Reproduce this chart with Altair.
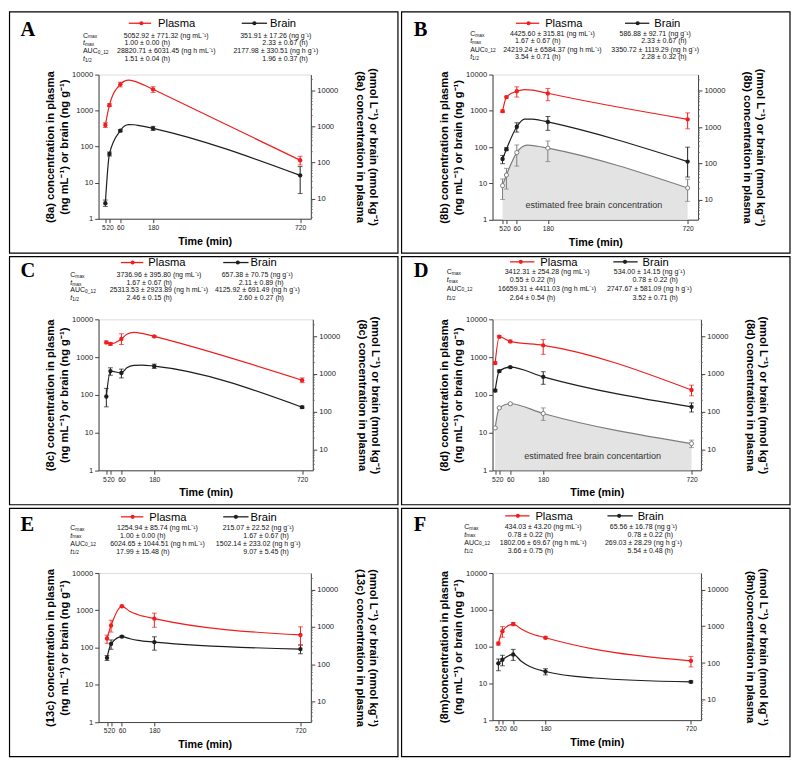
import altair as alt
import pandas as pd

S = 0.979
FONT = "Liberation Sans"
SERIF = "Liberation Serif"
RED = "#f01e1e"
BLACK = "#1e1e1e"
GRAY = "#7d7d7d"
AREA_FILL = "#e3e3e3"

TIME = [5, 20, 60, 180, 720]
LEFT_TICKS = [1, 10, 100, 1000, 10000]
RIGHT_TICKS = [10, 100, 1000, 10000]
X_TICKS = [5, 20, 60, 180, 720]
STAT_MAIN = ["C", "t", "AUC", "t"]
STAT_SUB = ["max", "max", "0_12", "1/2"]
STAT_ITALIC = [False, True, False, True]

# ---------------- Panel A (8a)
A_plasma = [400, 1420, 5350, 3900, 42]
A_plasma_lo = [340, 1300, 4550, 3200, 31]
A_plasma_hi = [460, 1550, 6150, 4600, 54]
A_brain = [2.7, 63, 278, 323, 16]
A_brain_lo = [2.2, 55, 260, 280, 5]
A_brain_hi = [3.3, 71, 296, 366, 28]
A_fit_t = [5, 20, 60, 75, 90, 110, 130, 155, 180, 720]
A_fit_plasma = [400, 1420, 5350, 6600, 7000, 6600, 5800, 4800, 3900, 42]
A_fit_brain = [2.7, 63, 278, 375, 410, 405, 385, 355, 323, 16]
A_stats_plasma = ["5052.92 ± 771.32 (ng mL⁻¹)", "1.00 ± 0.00 (h)", "28820.71 ± 6031.45 (ng h mL⁻¹)", "1.51 ± 0.04 (h)"]
A_stats_brain = ["351.91 ± 17.26 (ng g⁻¹)", "2.33 ± 0.67 (h)", "2177.98 ± 330.51 (ng h g⁻¹)", "1.96 ± 0.37 (h)"]

# ---------------- Panel B (8b)
B_plasma = [980, 2400, 3470, 3020, 585]
B_plasma_lo = [900, 2250, 2400, 1900, 320]
B_plasma_hi = [1060, 2550, 4600, 4150, 880]
B_brain = [47, 88, 365, 495, 40]
B_brain_lo = [35, 80, 260, 290, 15]
B_brain_hi = [59, 96, 470, 700, 100]
B_free = [8.7, 17, 71, 94, 7.5]
B_free_lo = [3.6, 7, 30, 40, 3.2]
B_free_hi = [13.3, 26, 115, 148, 13]
B_fit_t = [5, 20, 60, 90, 120, 150, 180, 720]
B_fit_plasma = [980, 2400, 3470, 3850, 3750, 3400, 3050, 585]
B_fit_brain = [47, 88, 365, 590, 590, 550, 495, 40]
B_free_fit_t = [5, 20, 60, 100, 140, 180, 720]
B_free_fit = [8.7, 17, 71, 113, 106, 94, 7.5]
B_stats_plasma = ["4425.60 ± 315.81 (ng mL⁻¹)", "1.67 ± 0.67 (h)", "24219.24 ± 6584.37 (ng h mL⁻¹)", "3.54 ± 0.71 (h)"]
B_stats_brain = ["586.88 ± 92.71 (ng g⁻¹)", "2.33 ± 0.67 (h)", "3350.72 ± 1119.29 (ng h g⁻¹)", "2.28 ± 0.32 (h)"]

# ---------------- Panel C (8c)
C_plasma = [2460, 2240, 3030, 3530, 244]
C_plasma_lo = [2250, 2050, 2150, 3350, 210]
C_plasma_hi = [2670, 2430, 4150, 3710, 280]
C_brain = [90, 425, 380, 575, 47]
C_brain_lo = [48, 330, 280, 500, 44]
C_brain_hi = [148, 520, 480, 650, 50]
C_fit_t = [5, 20, 60, 80, 105, 135, 180, 720]
C_fit_plasma = [2460, 2240, 3030, 4000, 4500, 4250, 3530, 244]
C_fit_brain = [90, 425, 380, 520, 605, 615, 575, 47]
C_stats_plasma = ["3736.96 ± 395.80 (ng mL⁻¹)", "1.67 ± 0.67 (h)", "25313.53 ± 2923.89 (ng h mL⁻¹)", "2.46 ± 0.15 (h)"]
C_stats_brain = ["657.38 ± 70.75 (ng g⁻¹)", "2.11 ± 0.89 (h)", "4125.92 ± 691.49 (ng h g⁻¹)", "2.60 ± 0.27 (h)"]

# ---------------- Panel D (8d)
D_plasma = [695, 3450, 2600, 2050, 134]
D_plasma_lo = [650, 3250, 2400, 1180, 94]
D_plasma_hi = [740, 3650, 2800, 2900, 180]
D_brain = [130, 425, 540, 300, 48]
D_brain_lo = [120, 400, 520, 190, 35]
D_brain_hi = [140, 450, 560, 410, 61]
D_free = [13.3, 45, 58, 32, 5.1]
D_free_lo = [12.5, 43, 55, 21, 4]
D_free_hi = [14, 47, 61, 45, 6.3]
D_stats_plasma = ["3412.31 ± 254.28 (ng mL⁻¹)", "0.55 ± 0.22 (h)", "16659.31 ± 4411.03 (ng h mL⁻¹)", "2.64 ± 0.54 (h)"]
D_stats_brain = ["534.00 ± 14.15 (ng g⁻¹)", "0.78 ± 0.22 (h)", "2747.67 ± 581.09 (ng h g⁻¹)", "3.52 ± 0.71 (h)"]

# ---------------- Panel E (13c)
E_plasma = [175, 390, 1280, 600, 218]
E_plasma_lo = [130, 260, 1200, 350, 115]
E_plasma_hi = [215, 540, 1360, 840, 360]
E_brain = [53, 126, 197, 140, 91]
E_brain_lo = [45, 90, 185, 85, 68]
E_brain_hi = [61, 160, 210, 195, 118]
E_fit_t = [5, 20, 60, 90, 120, 180, 720]
E_fit_plasma = [175, 390, 1280, 930, 760, 600, 218]
E_fit_brain = [53, 126, 197, 172, 155, 140, 91]
E_stats_plasma = ["1254.94 ± 85.74 (ng mL⁻¹)", "1.00 ± 0.00 (h)", "6024.65 ± 1044.51 (ng h mL⁻¹)", "17.99 ± 15.48 (h)"]
E_stats_brain = ["215.07 ± 22.52 (ng g⁻¹)", "1.67 ± 0.67 (h)", "1502.14 ± 233.02 (ng h g⁻¹)", "9.07 ± 5.45 (h)"]

# ---------------- Panel F (8m)
F_plasma = [121, 263, 410, 174, 41]
F_plasma_lo = [110, 180, 370, 164, 28]
F_plasma_hi = [132, 350, 450, 184, 54]
F_brain = [35, 44, 61, 21, 11]
F_brain_lo = [22, 30, 42, 17, 10.3]
F_brain_hi = [46, 58, 84, 25, 11.7]
F_fit_t = [5, 20, 60, 90, 120, 180, 360, 720]
F_fit_plasma = [121, 263, 410, 300, 235, 174, 85, 41]
F_fit_brain = [35, 44, 61, 40, 29, 21, 14, 11]
F_stats_plasma = ["434.03 ± 43.20 (ng mL⁻¹)", "0.78 ± 0.22 (h)", "1802.06 ± 69.67 (ng h mL⁻¹)", "3.66 ± 0.75 (h)"]
F_stats_brain = ["65.56 ± 16.78 (ng g⁻¹)", "0.78 ± 0.22 (h)", "269.03 ± 28.29 (ng h g⁻¹)", "5.54 ± 0.48 (h)"]

# Layout (reference pixel units, relative to each panel's top-left corner).
COL_LEFT = [92, 94]
ROW_TOP = [65, 65, 67]
ROW_H = [249, 256, 256]

PANELS = [
    dict(letter="A", cid="(8a) ", row=0, col=0, right=310, bottom=213, x5=99, x720=299, f=2.75,
         letter_xy=(12, 25), leg_y=12.3, red=(123, 146, 136, 153), blk=(239, 265, 252, 268),
         lab_x=76, rows=[25, 33, 41, 49], pc=161.5, pch=142, bc=274, bch=283.5,
         plasma=(A_plasma, A_plasma_lo, A_plasma_hi), brain=(A_brain, A_brain_lo, A_brain_hi),
         fit=(A_fit_t, A_fit_plasma, A_fit_brain), free=None,
         stats=(A_stats_plasma, A_stats_brain)),
    dict(letter="B", cid="(8b) ", row=0, col=1, right=305, bottom=214, x5=104.3, x720=294.3, f=2.8,
         letter_xy=(13, 25), leg_y=12.3, red=(118, 142, 131, 148), blk=(230, 255, 243, 260),
         lab_x=71, rows=[23.3, 31, 39.3, 47.3], pc=155.5, pch=140.5, bc=261, bch=270,
         plasma=(B_plasma, B_plasma_lo, B_plasma_hi), brain=(B_brain, B_brain_lo, B_brain_hi),
         fit=(B_fit_t, B_fit_plasma, B_fit_brain),
         free=((B_free, B_free_lo, B_free_hi), (B_free_fit_t, B_free_fit), "estimated free brain concentration", (198, 199)),
         stats=(B_stats_plasma, B_stats_brain)),
    dict(letter="C", cid="(8c) ", row=1, col=0, right=312, bottom=220, x5=100, x720=301, f=2.8,
         letter_xy=(12, 22), leg_y=6.7, red=(115, 138, 127, 143), blk=(220, 246, 235, 248),
         lab_x=63, rows=[20, 27.7, 35.3, 43.3], pc=154, pch=144, bc=255, bch=259,
         plasma=(C_plasma, C_plasma_lo, C_plasma_hi), brain=(C_brain, C_brain_lo, C_brain_hi),
         fit=(C_fit_t, C_fit_plasma, C_fit_brain), free=None,
         stats=(C_stats_plasma, C_stats_brain)),
    dict(letter="D", cid="(8d) ", row=1, col=1, right=308, bottom=220, x5=96.7, x720=298.3, f=2.8,
         letter_xy=(13, 22), leg_y=6, red=(112, 137, 123, 143), blk=(218, 243, 230, 248),
         lab_x=47, rows=[16.7, 25, 33.7, 42.7], pc=150, pch=135, bc=255, bch=261,
         plasma=(D_plasma, D_plasma_lo, D_plasma_hi), brain=(D_brain, D_brain_lo, D_brain_hi),
         fit=(TIME, D_plasma, D_brain),
         free=((D_free, D_free_lo, D_free_hi), (TIME, D_free), "estimated free brain concentartion", (196.7, 205)),
         stats=(D_stats_plasma, D_stats_brain)),
    dict(letter="E", cid="(13c) ", row=2, col=0, right=310, bottom=220, x5=100.7, x720=299.3, f=2.8,
         letter_xy=(12, 24), leg_y=9.3, red=(115, 138, 127, 144), blk=(220, 246, 233, 248),
         lab_x=63, rows=[21, 28.7, 36.7, 45], pc=152.5, pch=137.5, bc=256, bch=264,
         plasma=(E_plasma, E_plasma_lo, E_plasma_hi), brain=(E_brain, E_brain_lo, E_brain_hi),
         fit=(E_fit_t, E_fit_plasma, E_fit_brain), free=None,
         stats=(E_stats_plasma, E_stats_brain)),
    dict(letter="F", cid="(8m)", row=2, col=1, right=308, bottom=218, x5=100, x720=297.7, f=2.8,
         letter_xy=(13, 24), leg_y=8.3, red=(107, 132, 120, 138), blk=(212, 238, 224, 243),
         lab_x=65, rows=[20, 27.7, 36, 44.3], pc=146, pch=133, bc=249, bch=256,
         plasma=(F_plasma, F_plasma_lo, F_plasma_hi), brain=(F_brain, F_brain_lo, F_brain_hi),
         fit=(F_fit_t, F_fit_plasma, F_fit_brain), free=None,
         stats=(F_stats_plasma, F_stats_brain)),
]

MAIN_W = {"C": 5.2, "t": 2.0, "AUC": 15.2}
ONE = pd.DataFrame({"k": [0]})


def build_panel(P):
    ox, oy = COL_LEFT[P["col"]], ROW_TOP[P["row"]]
    row_h = ROW_H[P["row"]]

    def X(v):
        return (v - ox) * S

    def Y(v):
        return (v - oy) * S

    W = (P["right"] - ox) * S
    H = (P["bottom"] - oy) * S
    k = (P["x720"] - P["x5"]) / 715.0
    xmin = 5 - (P["x5"] - ox) / k
    xmax = 720 + (P["right"] - P["x720"]) / k
    deco = []

    def text(x, y, s, size, align="left", baseline="middle", **kw):
        opts = dict(text=s, fontSize=size, align=align, baseline=baseline)
        opts.setdefault("font", FONT)
        opts.update(kw)
        return alt.Chart(ONE).mark_text(**opts).encode(x=alt.value(x), y=alt.value(y))

    # panel frame
    sw = 1.2
    deco.append(alt.Chart(ONE).mark_rect(filled=False, color="black", strokeWidth=sw).encode(
        x=alt.value(X(0) + sw / 2), x2=alt.value(X(400) - sw / 2),
        y=alt.value(Y(0) + sw / 2), y2=alt.value(Y(row_h) - sw / 2)))
    # panel letter
    lx, ly = P["letter_xy"]
    deco.append(text(X(lx), Y(ly), P["letter"], 21 * S, baseline="alphabetic",
                     font=SERIF, fontWeight="bold", color="black"))
    # legend
    for (x0, x1, xd, xt), col, lab in [(P["red"], RED, "Plasma"), (P["blk"], BLACK, "Brain")]:
        yy = Y(P["leg_y"])
        deco.append(alt.Chart(ONE).mark_rule(color=col, strokeWidth=1.3).encode(
            x=alt.value(X(x0)), x2=alt.value(X(x1)), y=alt.value(yy)))
        deco.append(alt.Chart(ONE).mark_point(filled=True, color=col, size=18 * S * S, opacity=1).encode(
            x=alt.value(X(xd)), y=alt.value(yy)))
        deco.append(text(X(xt), yy + 0.8 * S, lab, 11.5 * S, color="black"))
    # stats table
    sp, sb = P["stats"]
    for i in range(4):
        yy = Y(P["rows"][i])
        m = STAT_MAIN[i]
        deco.append(text(X(P["lab_x"]), yy, m, 7.2 * S, color="#111",
                         fontStyle="italic" if STAT_ITALIC[i] else "normal"))
        deco.append(text(X(P["lab_x"]) + MAIN_W[m] * S, yy + 1.6 * S, STAT_SUB[i], 5.0 * S, color="#111"))
        pcx = P["pc"] if i in (0, 2) else P["pch"]
        bcx = P["bc"] if i in (0, 2) else P["bch"]
        deco.append(text(X(pcx), yy, sp[i], 7.2 * S, align="center", color="#111"))
        deco.append(text(X(bcx), yy, sb[i], 7.2 * S, align="center", color="#111"))

    # scales / axes
    xs = alt.Scale(domain=[xmin, xmax], nice=False, zero=False)
    ys = alt.Scale(type="log", domain=[1, 10000], nice=False)
    xaxis = alt.Axis(values=X_TICKS, format="d", title="Time (min)", grid=False,
                     labelFont=FONT, labelFontSize=6.9 * S, labelColor="#222", labelOverlap=False,
                     labelAlign={"expr": "datum.value == 5 ? 'right' : 'center'"},
                     labelFlush=False, labelPadding=2 * S, tickSize=4 * S, tickColor="#444",
                     domainColor="#444", titleFont=FONT, titleFontSize=11 * S, titleFontWeight="bold",
                     titleColor="black", titlePadding=4 * S)
    cid = P["cid"]
    yaxis = alt.Axis(values=LEFT_TICKS, format="d", grid=False,
                     title=[cid + "concentration in plasma", "(ng mL⁻¹) or brain (ng g⁻¹)"],
                     labelFont=FONT, labelFontSize=7.8 * S, labelColor="#222", labelPadding=2 * S,
                     tickSize=4 * S, tickColor="#444", domainColor="#444",
                     titleFont=FONT, titleFontSize=11.5 * S, titleFontWeight="bold", titleColor="black",
                     titleLineHeight=13.8 * S, titlePadding=2.5 * S)

    def xe():
        return alt.X("t:Q", scale=xs, axis=xaxis)

    def ye(field="v"):
        return alt.Y(field + ":Q", scale=ys, axis=yaxis)

    data_layers = []

    def series(vals, fit_t, fit_v, color, open_pts=False):
        mean, lo, hi = vals
        fdf = pd.DataFrame({"t": fit_t, "v": fit_v})
        pdf = pd.DataFrame({"t": TIME, "v": mean, "lo": lo, "hi": hi})
        out = [alt.Chart(fdf).mark_line(color=color, strokeWidth=1.2, interpolate="monotone").encode(x=xe(), y=ye()),
               alt.Chart(pdf).mark_errorbar(ticks=True, size=5 * S, thickness=1, color=color).encode(
                   x=xe(), y=ye("lo"), y2=alt.Y2("hi:Q"))]
        if open_pts:
            out.append(alt.Chart(pdf).mark_point(shape="circle", filled=True, fill="white", stroke=color,
                                                 strokeWidth=1, size=18 * S * S, opacity=1).encode(x=xe(), y=ye()))
        else:
            out.append(alt.Chart(pdf).mark_point(shape="circle", filled=True, color=color,
                                                 size=20 * S * S, opacity=1).encode(x=xe(), y=ye()))
        return out

    fit_t, fit_p, fit_b = P["fit"]
    if P["free"] is not None:
        fvals, (ft, fv), ftxt, (tx, ty) = P["free"]
        adf = pd.DataFrame({"t": ft, "v": fv, "base": [1] * len(ft)})
        data_layers.append(alt.Chart(adf).mark_area(color=AREA_FILL, interpolate="monotone").encode(
            x=xe(), y=ye(), y2=alt.Y2("base:Q")))
        data_layers += series(fvals, ft, fv, GRAY, open_pts=True)
        deco.append(text(X(tx), Y(ty), ftxt, 9.3 * S, align="center", color="#333"))
    data_layers += series(P["brain"], fit_t, fit_b, BLACK)
    data_layers += series(P["plasma"], fit_t, fit_p, RED)

    left_group = alt.layer(*(deco[:1] + data_layers + deco[1:]))

    # right axis (nmol units)
    f = P["f"]
    rs = alt.Scale(type="log", domain=[f, 10000 * f], nice=False)
    raxis = alt.Axis(orient="right", values=RIGHT_TICKS, format="d", grid=False,
                     title=["(nmol L⁻¹) or brain (nmol kg⁻¹)", cid + "concentration in plasma"],
                     labelFont=FONT, labelFontSize=7.8 * S, labelColor="#222", labelPadding=2 * S,
                     tickSize=4 * S, tickColor="#444", domainColor="#444",
                     titleFont=FONT, titleFontSize=11.5 * S, titleFontWeight="bold", titleColor="black",
                     titleLineHeight=13.3 * S, titlePadding=17 * S)
    minor = [m * 10 ** e for e in range(0, 5) for m in range(2, 10) if f <= m * 10 ** e <= 10000 * f]
    right_group = alt.layer(
        alt.Chart(pd.DataFrame({"n": RIGHT_TICKS})).mark_point(opacity=0).encode(
            y=alt.Y("n:Q", scale=rs, axis=raxis)),
        alt.Chart(pd.DataFrame({"n": minor})).mark_rule(color="#666", strokeWidth=0.8).encode(
            y=alt.Y("n:Q", scale=rs, axis=raxis), x=alt.value(W), x2=alt.value(W + 2 * S)),
    )
    return alt.layer(left_group, right_group).resolve_scale(y="independent").properties(width=W, height=H)


panels = [build_panel(p) for p in PANELS]
chart = alt.concat(*panels, columns=2, spacing=0, bounds="full", align="each") \
    .properties(padding=0).configure_view(stroke=None).configure(font=FONT)

chart.save("out.html", embed_options={"renderer": "svg", "actions": False})
